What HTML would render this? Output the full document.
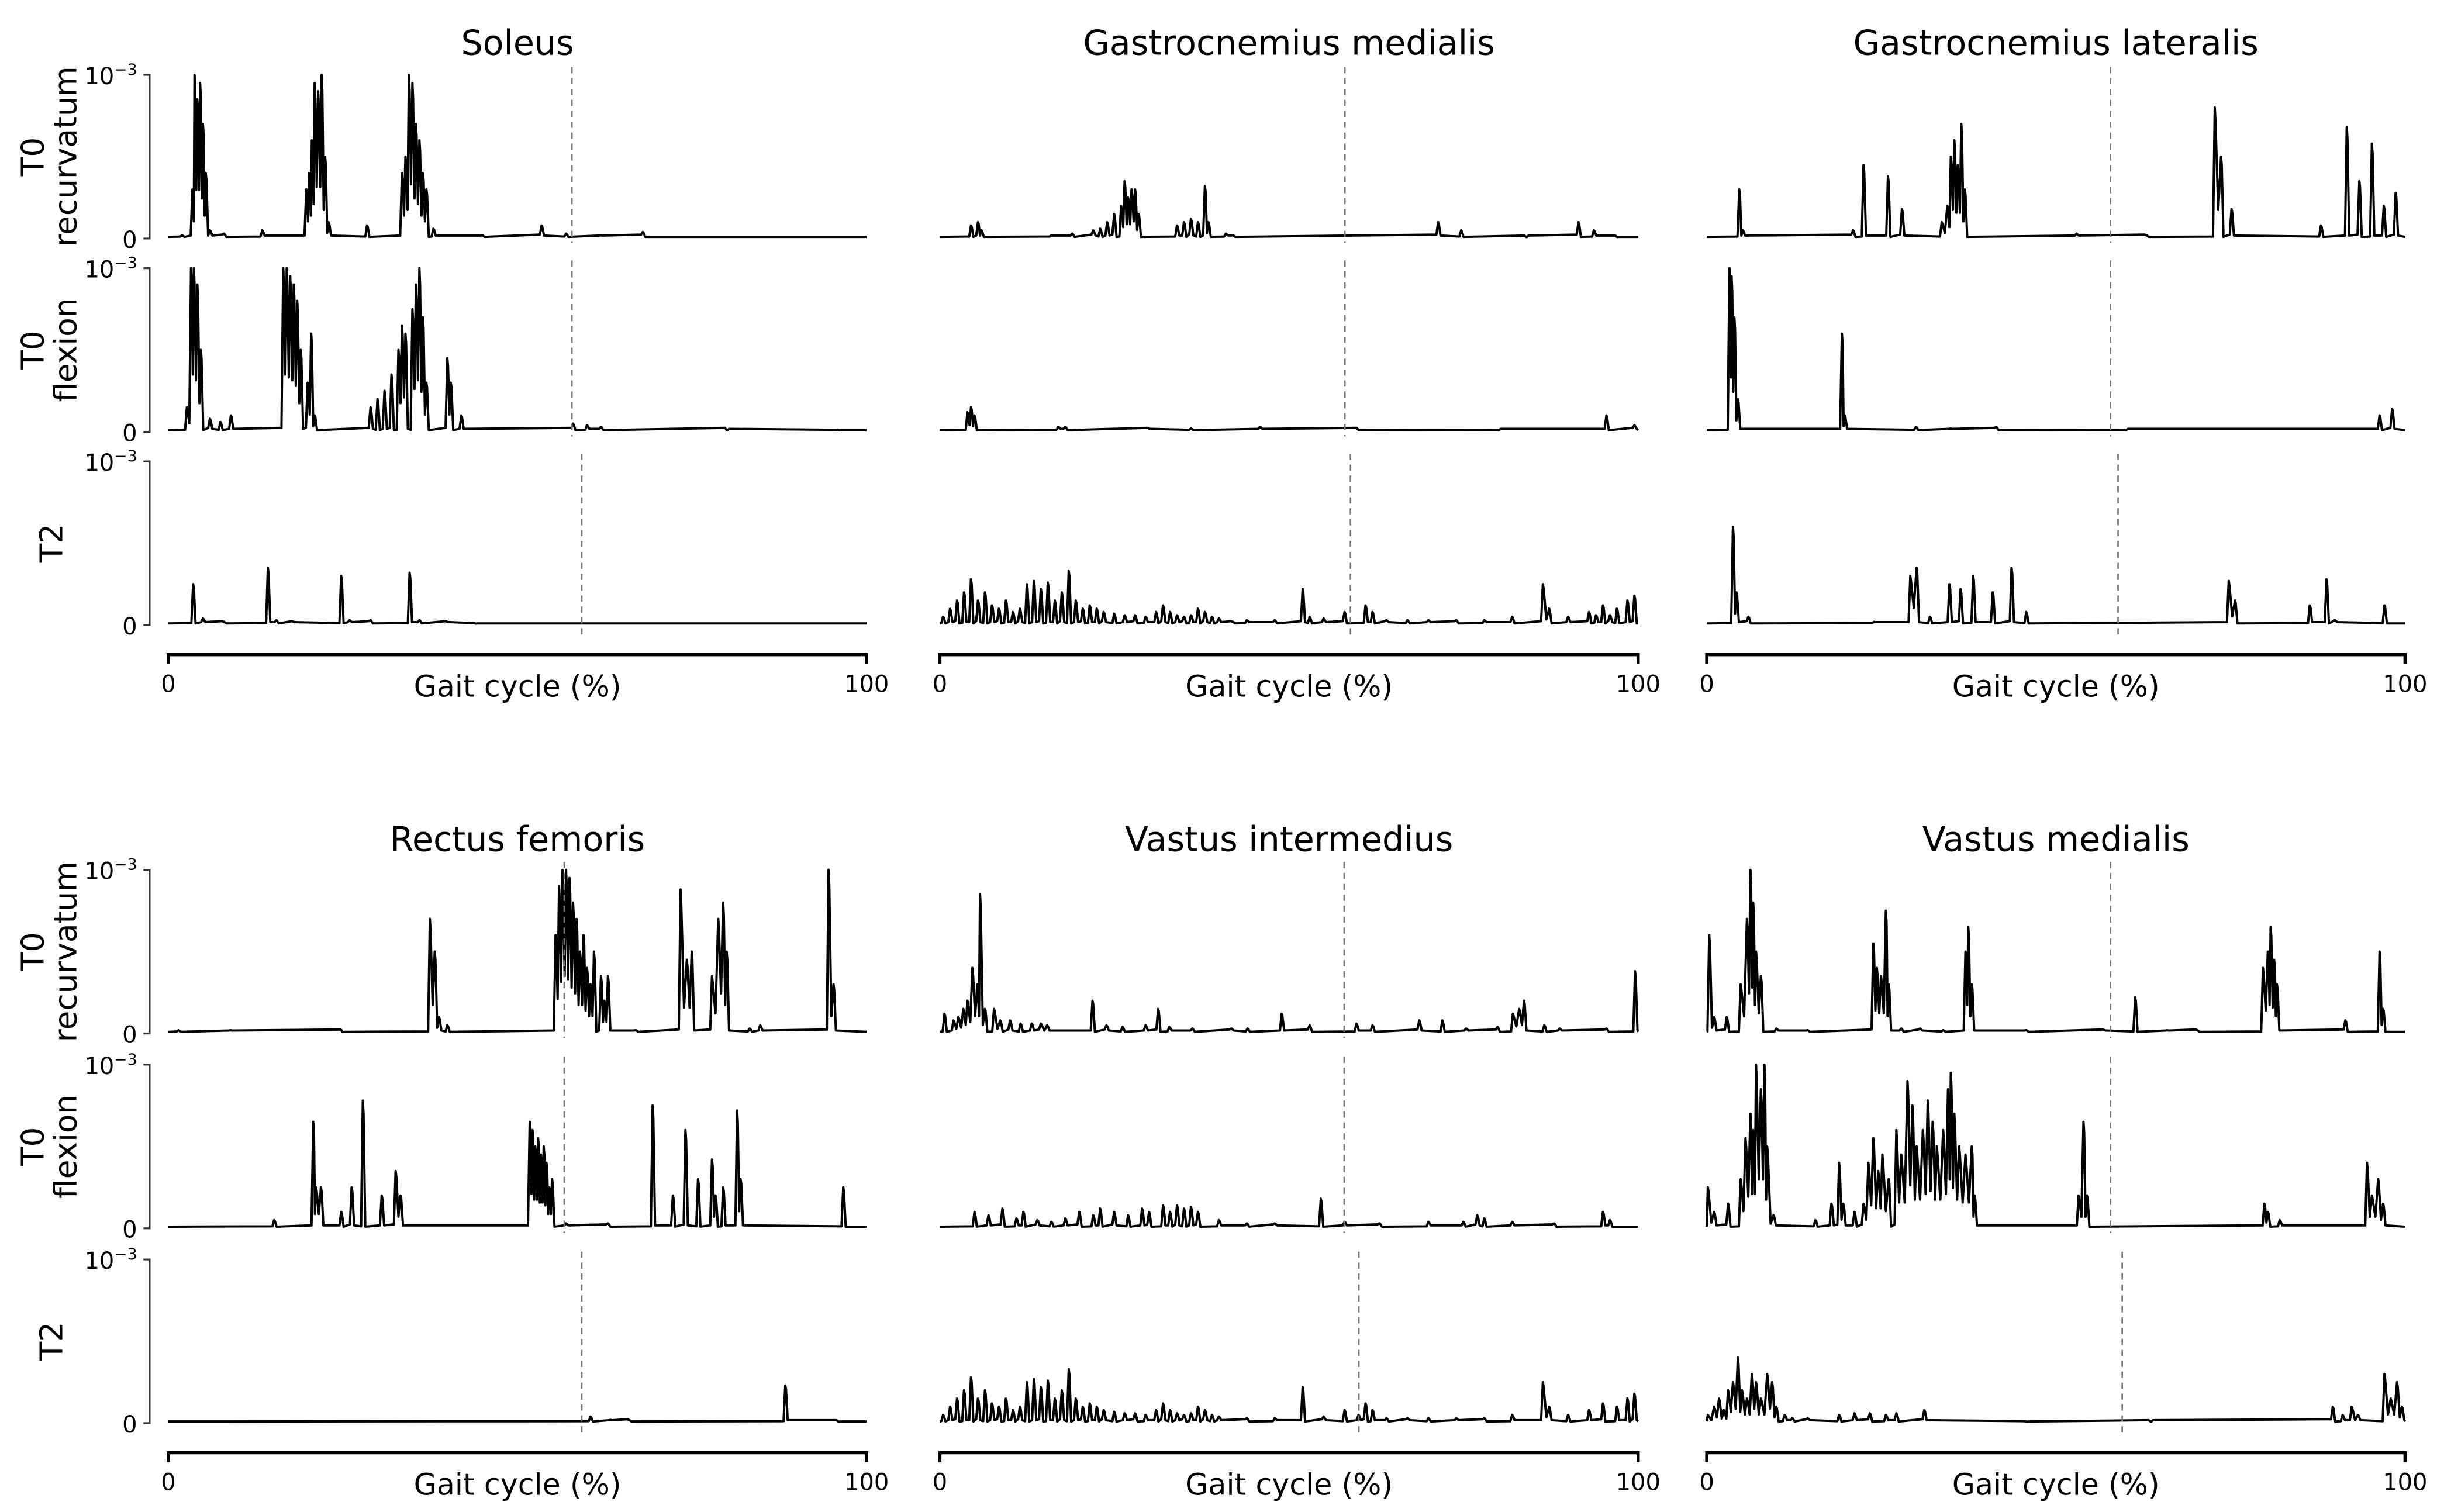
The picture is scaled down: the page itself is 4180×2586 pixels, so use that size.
<!DOCTYPE html>
<html><head><meta charset="utf-8"><style>
html,body{margin:0;padding:0;background:#fff}
svg{display:block}
text{font-family:"DejaVu Sans","Liberation Sans",sans-serif;fill:#000}
</style></head><body>
<svg id="fig" width="4180" height="2586" viewBox="0 0 1568 970" xmlns="http://www.w3.org/2000/svg"></svg>
<script>
// ---- data: peaks as [gait %, amplitude in units of 1e-3] ----
const soleusRec=[[2,0.02],[3.5,0.3],[3.8,1.0],[4.2,0.85],[4.6,0.95],[5,0.7],[5.4,0.4],[6,0.05],[8,0.03],[13.5,0.05],[19.8,0.3],[20.2,0.4],[20.6,0.6],[21,0.95],[21.5,0.9],[22,1.0],[22.5,0.5],[23,0.1],[28.5,0.08],[33.5,0.4],[34,0.5],[34.5,1.0],[35,0.95],[35.5,0.7],[36,0.6],[36.5,0.4],[37,0.3],[38,0.06],[45,0.02],[53.5,0.08],[57,0.03],[62,0.02],[68,0.04]];
const soleusFlex=[[2.7,0.15],[3.3,1.0],[3.7,1.0],[4.2,0.9],[4.7,0.5],[6,0.08],[7.5,0.06],[9,0.1],[16.5,1.0],[17,1.0],[17.5,0.95],[18,0.9],[18.5,0.8],[19,0.5],[20,0.3],[20.5,0.6],[21,0.1],[29,0.15],[30,0.2],[31,0.25],[32,0.35],[33,0.5],[33.5,0.65],[34,0.6],[35,0.75],[35.5,0.9],[36,1.0],[36.5,0.7],[37,0.3],[40,0.45],[40.5,0.3],[42,0.1],[58,0.05],[60,0.04],[62,0.03],[80,0.01],[96,0.01]];
const soleusT2=[[3.6,0.25],[5,0.04],[8,0.02],[14.3,0.35],[15.5,0.03],[18,0.02],[24.8,0.3],[26,0.03],[29,0.03],[34.6,0.32],[36,0.03],[40,0.02],[44,0.01]];
const gmRec=[[4.5,0.08],[5.5,0.1],[6,0.05],[16,0.02],[19,0.03],[22,0.05],[23,0.06],[24,0.1],[25,0.15],[26,0.2],[26.5,0.35],[27,0.25],[27.5,0.3],[28,0.3],[28.5,0.15],[34,0.08],[35,0.1],[36,0.12],[37,0.1],[38,0.32],[38.5,0.1],[41,0.03],[42,0.02],[71.4,0.1],[74.7,0.05],[84,0.01],[91.5,0.1],[93.7,0.05],[97,0.01]];
const gmFlex=[[4,0.12],[4.5,0.15],[5,0.1],[17,0.03],[18,0.03],[30,0.02],[36,0.02],[45.9,0.03],[60,0.01],[80,0.01],[95.5,0.1],[99.5,0.04]];
const gmT2=[[0.5,0.05],[1.5,0.1],[2.5,0.15],[3.5,0.2],[4.5,0.28],[5.5,0.15],[6.5,0.2],[7.5,0.12],[8.5,0.1],[9.5,0.15],[10.5,0.08],[11.5,0.1],[12.5,0.25],[13.5,0.27],[14.5,0.22],[15.5,0.26],[16.5,0.15],[17.5,0.2],[18.5,0.33],[19.5,0.15],[20.5,0.1],[21.5,0.12],[22.5,0.1],[23.5,0.08],[25,0.07],[26.5,0.06],[28,0.06],[29.5,0.05],[31,0.08],[32,0.12],[33,0.08],[34,0.06],[35,0.05],[36,0.06],[37,0.1],[38,0.08],[39,0.05],[40,0.04],[42,0.02],[44,0.03],[48,0.03],[52,0.22],[53,0.05],[55,0.04],[58,0.08],[61,0.12],[62,0.08],[64,0.03],[67,0.03],[70,0.03],[74,0.03],[78,0.03],[82,0.05],[86.4,0.25],[87.3,0.1],[90,0.05],[93,0.08],[94,0.06],[95,0.12],[96,0.06],[97,0.1],[98.5,0.15],[99.5,0.18]];
const glRec=[[4.7,0.3],[5.2,0.05],[21,0.05],[22.5,0.45],[26,0.38],[28,0.18],[33.7,0.1],[34.5,0.2],[35,0.5],[35.5,0.6],[36,0.45],[36.5,0.7],[37,0.3],[53,0.03],[63,0.02],[72.8,0.8],[73.7,0.5],[75.2,0.18],[88,0.08],[91.7,0.68],[93.5,0.35],[95.3,0.58],[97,0.2],[98.7,0.28]];
const glFlex=[[3.3,1.0],[3.6,0.95],[4,0.7],[4.5,0.2],[19.4,0.6],[19.8,0.1],[30,0.03],[35,0.02],[41.5,0.03],[60,0.01],[96.4,0.1],[98.2,0.14]];
const glT2=[[3.8,0.6],[4.3,0.2],[6,0.05],[24,0.02],[29.2,0.3],[30.1,0.35],[32,0.05],[34.8,0.25],[36.4,0.22],[38.2,0.3],[41,0.2],[43.7,0.35],[45.8,0.08],[74.8,0.27],[75.7,0.15],[86.4,0.12],[88.8,0.28],[90,0.03],[97.1,0.12]];
const rfRec=[[1.5,0.02],[9,0.02],[25,0.01],[37.5,0.7],[38.2,0.5],[38.8,0.1],[40,0.05],[55.5,0.6],[56,0.9],[56.5,1.0],[57,1.0],[57.5,0.95],[58,0.8],[58.5,0.7],[59,0.5],[59.5,0.6],[60,0.4],[60.5,0.3],[61,0.5],[62,0.35],[62.5,0.2],[63,0.35],[67,0.02],[73.4,0.88],[74.3,0.45],[75,0.5],[77.9,0.35],[78.8,0.7],[79.5,0.8],[80,0.5],[83.3,0.03],[84.8,0.05],[94.6,1.0],[95.3,0.3]];
const rfFlex=[[15.2,0.05],[20.8,0.65],[21.2,0.25],[21.9,0.25],[24.8,0.1],[26.3,0.25],[27.9,0.78],[30.6,0.2],[32.6,0.35],[33.3,0.2],[51.8,0.65],[52.2,0.6],[52.6,0.5],[53,0.55],[53.4,0.45],[53.8,0.5],[54.2,0.4],[54.6,0.25],[55,0.3],[57,0.03],[63,0.03],[69.4,0.75],[72.3,0.2],[74.1,0.6],[75.9,0.3],[77.9,0.42],[78.4,0.2],[79.5,0.25],[81.5,0.72],[82,0.3],[96.7,0.25]];
const rfT2=[[60.5,0.04],[63.4,0.02],[66,0.02],[88.4,0.23],[96,0.01]];
const viRec=[[0.7,0.12],[2,0.08],[2.7,0.1],[3.4,0.15],[4,0.2],[4.7,0.4],[5.4,0.3],[5.8,0.85],[6.5,0.15],[7.8,0.15],[8.7,0.08],[10.1,0.08],[11.6,0.06],[13.2,0.06],[14.5,0.06],[15.4,0.05],[21.9,0.2],[23.9,0.05],[26.2,0.04],[29.5,0.05],[31.3,0.15],[32.9,0.04],[36.2,0.03],[41.8,0.03],[44.1,0.03],[49,0.12],[53,0.05],[59.7,0.06],[62,0.05],[68.7,0.08],[72,0.08],[75.4,0.03],[79.9,0.04],[82.1,0.12],[83,0.15],[83.7,0.2],[86.6,0.05],[88.8,0.03],[95.5,0.03],[99.6,0.38]];
const viFlex=[[5,0.1],[7,0.08],[9,0.12],[11,0.06],[12,0.1],[14,0.05],[16,0.04],[18,0.06],[20,0.1],[22,0.08],[23,0.12],[25,0.1],[27,0.08],[29,0.12],[30,0.1],[32,0.14],[33,0.1],[34,0.14],[35,0.12],[36,0.13],[37,0.1],[40,0.05],[44,0.03],[48,0.03],[54.6,0.18],[58,0.04],[63,0.03],[70,0.04],[75,0.04],[77,0.08],[78,0.06],[82,0.04],[88,0.03],[95,0.1],[96,0.05]];
const viT2=[[0.5,0.05],[1.5,0.1],[2.5,0.15],[3.5,0.2],[4.5,0.28],[5.5,0.15],[6.5,0.2],[7.5,0.12],[8.5,0.1],[9.5,0.15],[10.5,0.08],[11.5,0.1],[12.5,0.25],[13.5,0.27],[14.5,0.22],[15.5,0.26],[16.5,0.15],[17.5,0.2],[18.5,0.33],[19.5,0.15],[20.5,0.1],[21.5,0.12],[22.5,0.1],[23.5,0.08],[25,0.07],[26.5,0.06],[28,0.06],[29.5,0.05],[31,0.08],[32,0.12],[33,0.08],[34,0.06],[35,0.05],[36,0.06],[37,0.1],[38,0.08],[39,0.05],[40,0.04],[44,0.03],[48,0.03],[52,0.22],[55,0.04],[58,0.08],[60,0.05],[61,0.12],[62,0.08],[64,0.03],[67,0.03],[70,0.03],[74,0.03],[78,0.03],[82,0.05],[86.4,0.25],[87.3,0.1],[90,0.05],[93,0.08],[95,0.12],[97,0.1],[98.5,0.15],[99.5,0.18]];
const vmRec=[[0.4,0.6],[1.1,0.1],[2.9,0.1],[4.9,0.3],[5.8,0.7],[6.3,1.0],[6.7,0.8],[7.1,0.5],[7.8,0.35],[10,0.03],[14.5,0.02],[23.9,0.55],[24.4,0.4],[25,0.35],[25.7,0.75],[26.1,0.3],[27.9,0.03],[30.6,0.03],[33.9,0.02],[37.1,0.5],[37.5,0.65],[38,0.3],[45.8,0.02],[57,0.02],[61.4,0.22],[66,0.02],[70.3,0.02],[79.7,0.4],[80.4,0.5],[80.8,0.65],[81.3,0.45],[81.7,0.3],[91.5,0.08],[96.4,0.5],[96.9,0.15]];
const vmFlex=[[0.2,0.25],[1.1,0.1],[3.1,0.15],[4.9,0.3],[5.6,0.55],[6.3,0.7],[6.7,0.6],[7.1,1.0],[7.8,0.85],[8.3,1.0],[8.7,0.5],[9.6,0.08],[15.6,0.05],[17.9,0.15],[19,0.4],[19.6,0.15],[21.2,0.1],[22.5,0.15],[23.2,0.4],[23.9,0.55],[24.6,0.35],[25.2,0.45],[26.1,0.3],[27.2,0.6],[27.9,0.45],[28.8,0.9],[29.5,0.75],[30.1,0.5],[31,0.6],[31.7,0.78],[32.4,0.65],[33,0.5],[33.9,0.6],[34.6,0.85],[35,0.95],[35.5,0.7],[36.2,0.5],[37.1,0.45],[38,0.5],[38.4,0.2],[53.3,0.2],[54,0.65],[54.5,0.2],[79.9,0.15],[80.4,0.1],[82.1,0.05],[94.6,0.4],[95.3,0.2],[96.2,0.3],[96.9,0.15]];
const vmT2=[[0.2,0.05],[1.1,0.1],[1.8,0.15],[2.5,0.08],[3.1,0.2],[3.8,0.25],[4.5,0.4],[5.1,0.2],[5.8,0.15],[6.5,0.3],[7.1,0.25],[7.8,0.15],[8.7,0.3],[9.4,0.25],[10,0.1],[11.2,0.05],[12.3,0.03],[14.5,0.03],[19,0.05],[21.2,0.06],[23.4,0.06],[25.7,0.05],[27.2,0.06],[31.2,0.08],[45.8,0.01],[63.6,0.01],[89.7,0.1],[91.1,0.05],[92.4,0.1],[93.3,0.05],[97.1,0.3],[98,0.15],[98.9,0.25],[99.6,0.1]];
// dashed-line (toe-off) positions in gait %
const toeOff=[[57.8,57.8,59.2],[58,58,58.8],[57.8,57.8,58.9],[56.7,56.7,59.2],[57.9,57.9,60],[57.8,57.8,59.5]];
const muscles=["Soleus","Gastrocnemius medialis","Gastrocnemius lateralis","Rectus femoris","Vastus intermedius","Vastus medialis"];
const seriesGrid=[[soleusRec,soleusFlex,soleusT2],[gmRec,gmFlex,gmT2],[glRec,glFlex,glT2],[rfRec,rfFlex,rfT2],[viRec,viFlex,viT2],[vmRec,vmFlex,vmT2]];
const xTicks=["0","100"];

const NS="http://www.w3.org/2000/svg";
const svg=document.getElementById('fig');
function el(tag,attrs,parent,txt){const e=document.createElementNS(NS,tag);for(const k in attrs)e.setAttribute(k,attrs[k]);if(txt!==undefined)e.textContent=txt;(parent||svg).appendChild(e);return e;}
const colX=[108,603,1095], W=448, H=105;
const groupTop=[[153,277,401],[663,788,913]];
const axisY=[420,932], titleY=[35,546];
const rowNames=[["T0","recurvatum"],["T0","flexion"],["T2"]];

for(let m=0;m<6;m++){
  const g=Math.floor(m/3), c=m%3, x0=colX[c];
  const xs=p=>x0+p/100*W;
  const grp=el('g',{});
  
  
  const t=el('text',{x:x0+W/2,y:titleY[g],'text-anchor':'middle','font-size':22},grp,muscles[m]);
  
  
  for(let r=0;r<3;r++){
    const base=groupTop[g][r], ys=v=>base-v*H;
    const pk=seriesGrid[m][r].slice().sort((a,b)=>a[0]-b[0]);
    const w=0.3;
    let d='M'+xs(0)+','+ys(0.01);
    pk.forEach((p,i)=>{
      const prev=pk[i-1], next=pk[i+1];
      let lv=0.012+(i%3)*0.006, rv=0.01+(i%2)*0.008;
      if(prev && p[0]-prev[0]<1.0){ lv=Math.min(p[1],prev[1])*0.35; }
      if(next && next[0]-p[0]<1.0){ rv=Math.min(p[1],next[1])*0.35; }
      const a=prev && p[0]-prev[0]<1.0 ? (prev[0]+p[0])/2 : Math.max(0,p[0]-w);
      const b=next && next[0]-p[0]<1.0 ? (p[0]+next[0])/2 : Math.min(100,p[0]+w);
      d+=' L'+xs(a).toFixed(2)+','+ys(lv).toFixed(2)+' L'+xs(p[0]-0.05).toFixed(2)+','+ys(p[1]).toFixed(2)+' L'+xs(p[0]+0.05).toFixed(2)+','+ys(p[1]*0.9).toFixed(2)+' L'+xs(b).toFixed(2)+','+ys(rv).toFixed(2);
    });
    d+=' L'+xs(100)+','+ys(0.01);
    const path=el('path',{d:d,fill:'none',stroke:'#000','stroke-width':1.5,'stroke-linejoin':'round'},grp);
    
    
    const dx=xs(toeOff[m][r]);
    const dl=el('line',{x1:dx,x2:dx,y1:base-H-5,y2:base+3+(r==2?6:0),stroke:'#777','stroke-width':1,'stroke-dasharray':'4,3'},grp);
    
    
    if(c===0){
      const ax=el('path',{d:`M92,${base-H} H96 V${base} H92`,fill:'none',stroke:'#333','stroke-width':1.2},grp);
      
      
      const tt=el('text',{x:88,y:base-H+6,'text-anchor':'end','font-size':15,fill:'#333'},grp);
      
      
      el('tspan',{},tt,'10');el('tspan',{dy:-6,'font-size':10},tt,'−3');
      const t0=el('text',{x:88,y:base+6,'text-anchor':'end','font-size':15,fill:'#333'},grp,'0');
      
      
      const cy=base-H/2, nm=rowNames[r];
      if(nm.length===2){
        const l1=el('text',{x:0,y:0,'text-anchor':'middle','font-size':20,transform:`translate(28,${cy}) rotate(-90)`},grp,nm[0]);
        
        
        const l2=el('text',{x:0,y:0,'text-anchor':'middle','font-size':20,transform:`translate(49,${cy}) rotate(-90)`},grp,nm[1]);
        
        
      } else {
        const l1=el('text',{x:0,y:0,'text-anchor':'middle','font-size':20,transform:`translate(40,${cy}) rotate(-90)`},grp,nm[0]);
        
        
      }
    }
  }
  const ay=axisY[g];
  const xa=el('path',{d:`M${x0},${ay+6} V${ay} H${x0+W} V${ay+6}`,fill:'none',stroke:'#000','stroke-width':2},grp);
  
  
  xTicks.forEach((tk,i)=>{const tl=el('text',{x:x0+i*W,y:ay+24,'text-anchor':'middle','font-size':15},grp,tk);
    
    });
  const xl=el('text',{x:x0+W/2,y:ay+27,'text-anchor':'middle','font-size':19},grp,'Gait cycle (%)');
  
  
}
</script>
</body></html>
